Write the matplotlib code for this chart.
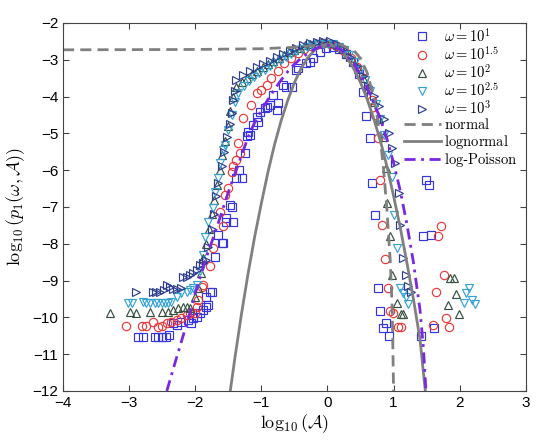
import numpy as np
import matplotlib
matplotlib.use("Agg")
import matplotlib.pyplot as plt

plt.rcParams['mathtext.fontset'] = 'cm'
plt.rcParams['font.family'] = ['Liberation Sans', 'DejaVu Sans']

# omega = 10^1  (squares)
sq_x = [-2.86, -2.79, -2.61, -2.56, -2.51, -2.44, -2.39, -2.33, -2.27, -2.21, -2.11, -2.06, -2.03,
        -1.98, -1.93, -1.88, -1.83, -1.80, -1.83, -1.78, -1.74, -1.70, -1.60, -1.58, -1.65, -1.54,
        -1.43, -1.53, -1.45, -1.48, -1.30, -1.38, -1.34, -1.25, -1.17, -1.21, -1.20, -1.12, -1.05,
        -1.02, -1.07, -0.95, -0.92, -0.87, -0.82, -0.75, -0.77, -0.67, -0.62, -0.54, -0.47, -0.44,
        -0.32, -0.27, -0.22, -0.11, -0.02, 0.08, 0.18, 0.28, 0.39, 0.47, 0.54, 0.59, 0.64, 0.68,
        0.72, 0.76, 0.80, 0.88, 0.84, 0.93, 1.41, 1.49, 1.53, 1.45, 1.57, 1.61]
sq_y = [-10.54, -10.54, -10.54, -10.54, -10.54, -10.52, -10.48, -10.16, -10.21, -10.12, -10.07, -10.14, -10.03,
        -9.98, -9.89, -9.80, -9.71, -9.66, -9.44, -9.30, -9.30, -8.35, -7.99, -7.97, -7.76, -7.40,
        -7.40, -7.31, -6.99, -6.95, -6.22, -6.22, -5.99, -5.54, -5.04, -5.07, -4.95, -4.77, -4.68,
        -4.41, -4.55, -4.32, -4.27, -4.23, -3.96, -4.18, -4.36, -3.68, -3.73, -3.73, -3.28, -3.23,
        -3.10, -3.05, -2.96, -2.78, -2.68, -2.66, -2.72, -2.85, -3.05, -3.40, -3.87, -4.52, -5.13, -6.35,
        -7.22, -9.21, -9.84, -10.16, -10.30, -10.51, -10.51, -6.27, -6.40, -7.79, -7.76, -10.29]

# omega = 10^1.5  (circles)
ci_x = [-3.04, -2.81, -2.74, -2.64, -2.56, -2.51, -2.43, -2.36, -2.28, -2.21, -2.13, -2.08, -2.01,
        -1.98, -1.96, -1.90, -1.88, -1.78, -1.73, -1.63, -1.58, -1.55, -1.50, -1.45, -1.43, -1.38,
        -1.33, -1.35, -1.28, -1.15, -1.07, -1.00, -0.92, -0.85, -0.75, -0.65, -0.55, -0.45, -0.35,
        -0.25, -0.15, -0.05, 0.05, 0.15, 0.25, 0.35, 0.45, 0.55, 0.62, 0.67, 0.72, 0.77, 0.79,
        0.83, 0.87, 0.92, 0.95, 0.99, 1.07, 1.11, 1.72, 1.67, 1.76, 1.64, 1.80, 1.84, 1.60]
ci_y = [-10.23, -10.23, -10.23, -10.12, -10.25, -10.23, -10.16, -10.12, -10.07, -10.03, -9.94, -9.89, -9.89,
        -9.71, -9.53, -9.17, -9.12, -8.60, -8.12, -7.13, -7.53, -6.67, -6.49, -6.04, -5.90, -5.72,
        -5.54, -5.27, -4.59, -4.23, -3.91, -3.82, -3.68, -3.50, -3.30, -3.10, -2.95, -2.82, -2.72,
        -2.63, -2.58, -2.55, -2.56, -2.62, -2.75, -2.95, -3.20, -3.50, -3.80, -4.09, -4.50, -5.13, -6.27,
        -7.49, -8.42, -9.21, -9.84, -9.89, -10.25, -10.25, -7.53, -7.79, -8.85, -9.31, -10.02, -10.25, -10.22]

# omega = 10^2  (triangles up)
tu_x = [-3.29, -2.99, -2.89, -2.69, -2.51, -2.41, -2.33, -2.26, -2.18, -2.13, -2.08, -2.01, -1.96,
        -1.92, -1.88, -1.84, -1.79, -1.75, -1.71, -1.67, -1.63, -1.59, -1.55, -1.51, -1.47, -1.43,
        -1.38, -1.30, -1.22, -1.14, -1.06, -0.98, -0.90, -0.82, -0.74, -0.66, -0.58, -0.50, -0.42,
        -0.34, -0.26, -0.18, -0.10, -0.02, 0.06, 0.14, 0.22, 0.30, 0.38, 0.46, 0.54, 0.62, 0.70,
        0.78, 0.84, 0.88, 0.90, 0.94, 0.97, 1.05, 1.11, 1.15, 1.86, 1.91, 1.95, 1.83, 1.99]
tu_y = [-9.89, -9.85, -9.89, -9.85, -9.85, -9.85, -9.80, -9.75, -9.71, -9.71, -9.75, -9.44, -9.20,
        -8.80, -8.40, -8.00, -7.60, -7.20, -6.80, -6.40, -6.00, -5.60, -5.20, -4.80, -4.40, -4.00,
        -3.75, -3.60, -3.50, -3.40, -3.30, -3.20, -3.12, -3.04, -2.96, -2.88, -2.80, -2.73, -2.67,
        -2.61, -2.57, -2.54, -2.52, -2.52, -2.54, -2.60, -2.70, -2.85, -3.02, -3.25, -3.50, -3.80, -4.15,
        -4.60, -5.10, -5.95, -6.90, -7.79, -8.85, -9.62, -9.91, -9.91, -8.93, -8.93, -9.36, -9.66, -9.91]

# omega = 10^2.5  (triangles down)
td_x = [-3.02, -2.96, -2.79, -2.74, -2.69, -2.61, -2.56, -2.51, -2.46, -2.41, -2.36, -2.28, -2.21,
        -2.13, -2.08, -2.03, -1.98, -1.93, -1.88, -1.85, -1.80, -1.73, -1.70, -1.66, -1.62, -1.58,
        -1.55, -1.51, -1.45, -1.40, -1.35, -1.27, -1.19, -1.11, -1.03, -0.95, -0.87, -0.79, -0.71,
        -0.63, -0.55, -0.47, -0.39, -0.31, -0.23, -0.15, -0.07, 0.01, 0.09, 0.17, 0.25, 0.33, 0.41,
        0.49, 0.57, 0.65, 0.73, 0.80, 0.86, 0.92, 0.97, 1.00, 1.05, 1.10, 1.15, 1.19, 1.22,
        2.14, 2.09, 2.18, 2.06, 2.23]
td_y = [-9.62, -9.62, -9.57, -9.62, -9.62, -9.62, -9.62, -9.62, -9.62, -9.60, -9.57, -9.44, -9.35,
        -9.30, -9.26, -9.21, -9.12, -8.75, -8.30, -7.81, -7.40, -7.04, -6.60, -6.20, -5.80, -5.45,
        -5.32, -4.90, -4.50, -4.15, -3.90, -3.70, -3.58, -3.47, -3.37, -3.27, -3.18, -3.09, -3.00,
        -2.92, -2.84, -2.76, -2.70, -2.64, -2.60, -2.57, -2.56, -2.56, -2.58, -2.64, -2.74, -2.88, -3.06,
        -3.28, -3.55, -3.85, -4.20, -4.60, -5.05, -5.60, -6.18, -7.22, -8.12, -9.21, -9.35, -9.45, -9.64,
        -9.21, -9.34, -9.53, -9.61, -9.64]

# omega = 10^3  (triangles right)
tr_x = [-2.90, -2.64, -2.59, -2.54, -2.47, -2.43, -2.38, -2.33, -2.27, -2.21, -2.18, -2.13, -2.08,
        -2.03, -1.98, -1.93, -1.88, -1.83, -1.80, -1.75, -1.72, -1.68, -1.65, -1.60, -1.56, -1.52,
        -1.48, -1.45, -1.43, -1.40, -1.38, -1.28, -1.17, -1.07, -0.97, -0.87, -0.77, -0.67, -0.57,
        -0.47, -0.37, -0.27, -0.16, -0.06, 0.04, 0.14, 0.24, 0.34, 0.44, 0.54, 0.62, 0.70, 0.78,
        0.86, 0.93, 0.98, 1.02, 1.08, 1.10, 1.14, 1.19, 1.22, 1.26]
tr_y = [-9.30, -9.30, -9.30, -9.30, -9.26, -9.12, -9.17, -9.24, -9.24, -9.21, -8.89, -8.89, -8.85,
        -8.80, -8.71, -8.58, -8.53, -8.45, -8.10, -7.60, -7.20, -6.70, -6.35, -5.90, -5.50, -5.10,
        -4.75, -4.45, -4.10, -3.85, -3.55, -3.41, -3.30, -3.20, -3.11, -3.02, -2.93, -2.85, -2.76,
        -2.68, -2.61, -2.55, -2.51, -2.49, -2.50, -2.57, -2.72, -2.92, -3.17, -3.45, -3.72, -3.98, -4.25,
        -4.60, -5.00, -5.40, -5.81, -6.61, -7.49, -8.39, -8.85, -9.15, -9.30]

# model curves
normal_x = [-4.0, -2.0, -1.0, -0.5, -0.3, -0.1, 0.08, 0.2, 0.4, 0.5, 0.6, 0.7, 0.75, 0.8, 0.85, 0.9, 0.95, 0.98, 1.0]
normal_y = [-2.73, -2.72, -2.70, -2.66, -2.63, -2.60, -2.58, -2.59, -2.75, -2.96, -3.35, -4.02, -4.52, -5.16,
            -6.00, -7.08, -8.47, -9.8, -12.0]

lognorm_x = [-1.47, -1.4, -1.3, -1.2, -1.1, -1.0, -0.9, -0.8, -0.7, -0.6, -0.5, -0.4, -0.3, -0.2, -0.1, 0.0,
             0.1, 0.2, 0.3, 0.4, 0.5, 0.6, 0.7, 0.8, 0.9, 1.0, 1.1, 1.2, 1.3, 1.4, 1.48]
lognorm_y = [-12.0, -11.1, -9.9, -8.8, -7.8, -6.9, -6.05, -5.3, -4.65, -4.1, -3.62, -3.24, -2.95, -2.75, -2.63,
             -2.59, -2.63, -2.75, -2.95, -3.25, -3.62, -4.07, -4.6, -5.2, -5.9, -6.7, -7.55, -8.5, -9.5, -10.6, -12.0]

logp_x = [-2.43, -2.3, -2.2, -2.1, -2.0, -1.9, -1.8, -1.7, -1.6, -1.5, -1.4, -1.3, -1.2, -1.1, -1.0, -0.9,
          -0.8, -0.7, -0.6, -0.5, -0.4, -0.3, -0.2, -0.1, 0.0, 0.2, 0.4, 0.6, 0.8, 0.9, 1.0, 1.1, 1.2,
          1.3, 1.4, 1.45, 1.49]
logp_y = [-12.0, -11.2, -10.6, -10.0, -9.35, -8.75, -8.2, -7.7, -7.15, -6.6, -6.1, -5.6, -5.1, -4.7, -4.37, -4.08,
          -3.8, -3.55, -3.32, -3.12, -2.96, -2.83, -2.72, -2.64, -2.6, -2.72, -3.1, -3.75, -4.6, -5.15, -5.8, -6.55, -7.45,
          -8.5, -9.8, -10.8, -12.0]

fig = plt.figure(figsize=(5.4, 4.4), dpi=100)
ax = fig.add_axes([0.1167, 0.1114, 0.857, 0.8364])

mk = dict(ls='none', mfc='none', ms=6, mew=0.85)
ax.plot(sq_x, sq_y, marker='s', mec='#3434e0', label=r'$\omega=10^{1}$', **mk)
ax.plot(ci_x, ci_y, marker='o', mec='#e8383a', label=r'$\omega=10^{1.5}$', **mk)
ax.plot(tu_x, tu_y, marker='^', mec='#35503f', label=r'$\omega=10^{2}$', **mk)
ax.plot(td_x, td_y, marker='v', mec='#35a2d6', label=r'$\omega=10^{2.5}$', **mk)
ax.plot(tr_x, tr_y, marker='>', mec='#2e3c92', label=r'$\omega=10^{3}$', **mk)

ax.plot(normal_x, normal_y, ls=(0, (4, 2.2)), color='#808080', lw=2, label=r'$\mathrm{normal}$')
ax.plot(lognorm_x, lognorm_y, ls='-', color='#808080', lw=2, label=r'$\mathrm{lognormal}$')
ax.plot(logp_x, logp_y, ls=(0, (4, 2, 1, 2)), color='#7a28e0', lw=2, label=r'$\mathrm{log}$-$\mathrm{Poisson}$')

ax.set_xlim(-4, 3)
ax.set_ylim(-12, -2)
ax.set_xticks(range(-4, 4))
ax.set_yticks(range(-12, -1))
ax.tick_params(direction='in', top=True, right=True, labelsize=11, length=4, color='#444444')
for s in ax.spines.values():
    s.set_color('#444444')

ax.set_xlabel(r'$\log_{10}(\mathcal{A})$', fontsize=13, labelpad=2)
ax.set_ylabel(r'$\log_{10}(p_1(\omega,\mathcal{A}))$', fontsize=13, labelpad=4)

ax.legend(loc='upper right', bbox_to_anchor=(1.0, 1.012), frameon=False, fontsize=10.5,
          handlelength=2.5, handletextpad=0.25, labelspacing=0.02, borderaxespad=0.15, numpoints=1)

fig.savefig('out.png', dpi=100)
